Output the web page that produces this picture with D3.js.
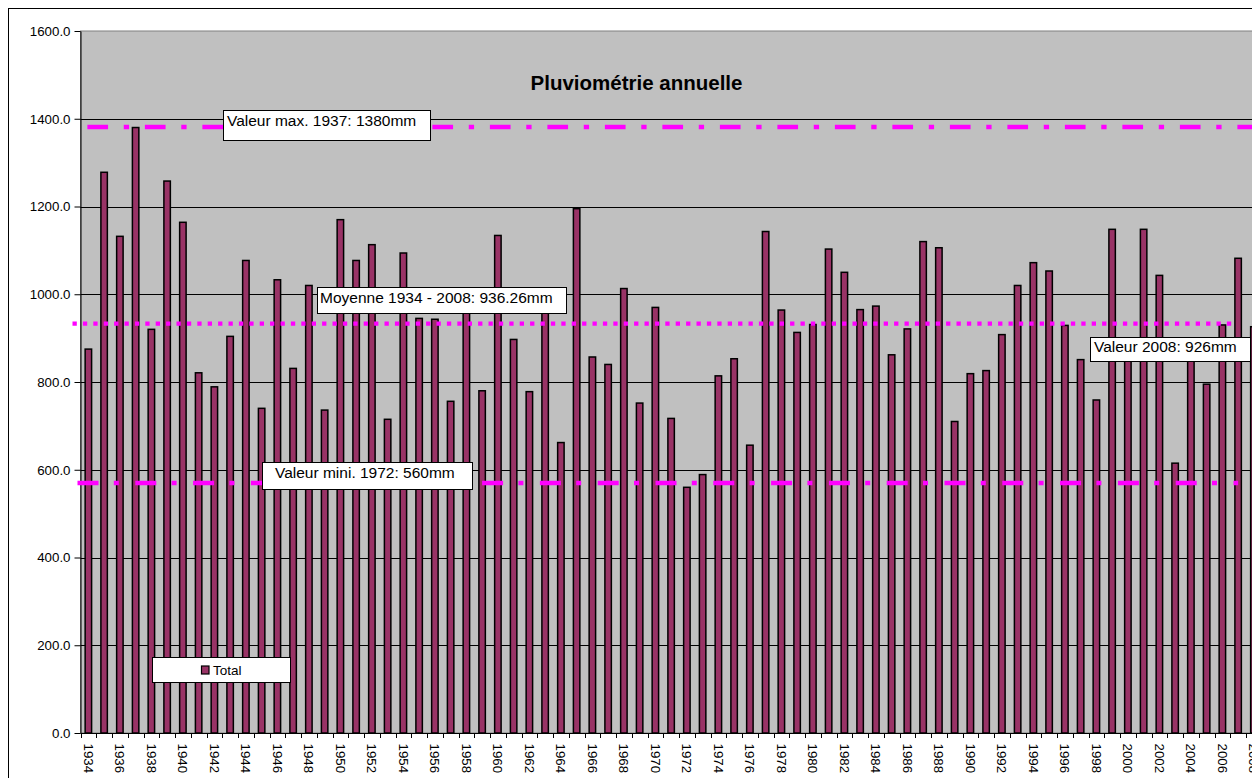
<!DOCTYPE html>
<html>
<head>
<meta charset="utf-8">
<script src="https://cdn.jsdelivr.net/npm/d3@7"></script>
<style>
  body { margin: 0; background: #fff; overflow: hidden; }
  text { font-family: Arial, "Liberation Sans", sans-serif; }
</style>
</head>
<body>
<div id="chart"></div>
<script>
// categories (years) and yearly rainfall in mm
var years = [1934, 1935, 1936, 1937, 1938, 1939, 1940, 1941, 1942, 1943,
  1944, 1945, 1946, 1947, 1948, 1949, 1950, 1951, 1952, 1953,
  1954, 1955, 1956, 1957, 1958, 1959, 1960, 1961, 1962, 1963,
  1964, 1965, 1966, 1967, 1968, 1969, 1970, 1971, 1972, 1973,
  1974, 1975, 1976, 1977, 1978, 1979, 1980, 1981, 1982, 1983,
  1984, 1985, 1986, 1987, 1988, 1989, 1990, 1991, 1992, 1993,
  1994, 1995, 1996, 1997, 1998, 1999, 2000, 2001, 2002, 2003,
  2004, 2005, 2006, 2007, 2008];
var rainfall = [875, 1278, 1132, 1380, 920, 1258, 1164, 821, 789, 904,
  1077, 740, 1033, 831, 1020, 736, 1170, 1077, 1113, 715,
  1094, 945, 943, 756, 980, 780, 1134, 897, 778, 970,
  662, 1195, 857, 840, 1013, 752, 970, 717, 560, 589,
  814, 853, 656, 1143, 964, 913, 931, 1103, 1050, 965,
  973, 862, 921, 1120, 1106, 710, 819, 826, 908, 1020,
  1072, 1053, 929, 851, 759, 1148, 885, 1148, 1043, 615,
  862, 795, 930, 1082, 926];
var yTicks = [0, 200, 400, 600, 800, 1000, 1200, 1400, 1600];
var xTickLabels = [1934, 1936, 1938, 1940, 1942, 1944, 1946, 1948, 1950, 1952,
  1954, 1956, 1958, 1960, 1962, 1964, 1966, 1968, 1970, 1972, 1974, 1976,
  1978, 1980, 1982, 1984, 1986, 1988, 1990, 1992, 1994, 1996, 1998, 2000,
  2002, 2004, 2006, 2008];

// reference lines (levels as drawn on the chart)
var maxLevel = 1381,
  meanLevel = 933,
  minLevel = 570;
var seriesName = "Total";
var chartTitle = "Pluviométrie annuelle";
var labelMax = "Valeur max. 1937: 1380mm",
  labelMean = "Moyenne 1934 - 2008: 936.26mm",
  labelMin = "Valeur mini. 1972: 560mm",
  labelLast = "Valeur 2008: 926mm";

var data = years.map(function (y, i) {
  return { year: y, value: rainfall[i] };
});

var frameWidth = 1252,
  frameHeight = 778;
var plot = { left: 80.5, top: 31, right: 1261.75, bottom: 733 };
var barColor = "#993366",
  refColor = "#ff00ff";

var svg = d3
  .select("#chart")
  .append("svg")
  .attr("width", frameWidth)
  .attr("height", frameHeight);

// chart area frame (runs off the right / bottom of the picture)
svg
  .append("rect")
  .attr("x", 8.5)
  .attr("y", 8.5)
  .attr("width", 1300)
  .attr("height", 800)
  .attr("fill", "#fff")
  .attr("stroke", "#000");

var xSlot = d3.scaleBand().domain(years).range([plot.left, plot.right]);
var xScale = d3
  .scaleBand()
  .domain(years)
  .range([plot.left, plot.right])
  .paddingInner(0.59)
  .paddingOuter(0.295);
var yScale = d3.scaleLinear().domain([0, 1600]).range([plot.bottom, plot.top]);

// plot area
svg
  .append("rect")
  .attr("x", plot.left)
  .attr("y", plot.top)
  .attr("width", plot.right - plot.left)
  .attr("height", plot.bottom - plot.top)
  .attr("fill", "#c0c0c0")
  .attr("stroke", "#808080");

// gridlines
svg
  .append("g")
  .attr("class", "grid")
  .selectAll("line")
  .data(yTicks.slice(1, -1))
  .enter()
  .append("line")
  .attr("x1", plot.left)
  .attr("x2", plot.right)
  .attr("y1", function (d) { return Math.round(yScale(d)) + 0.5; })
  .attr("y2", function (d) { return Math.round(yScale(d)) + 0.5; })
  .attr("stroke", "#000")
  .attr("stroke-width", 1);

// title
svg
  .append("text")
  .attr("x", 636.5)
  .attr("y", 90)
  .attr("text-anchor", "middle")
  .attr("font-size", "20.5px")
  .attr("font-weight", "bold")
  .attr("fill", "#000")
  .text(chartTitle);

// bars
svg
  .append("g")
  .attr("class", "bars")
  .selectAll("rect")
  .data(data)
  .enter()
  .append("rect")
  .attr("x", function (d) { return xScale(d.year); })
  .attr("y", function (d) { return yScale(d.value); })
  .attr("width", xScale.bandwidth())
  .attr("height", function (d) { return plot.bottom - yScale(d.value); })
  .attr("fill", barColor)
  .attr("stroke", "#000")
  .attr("stroke-width", 1.5);

// y axis
var yAxis = svg
  .append("g")
  .attr("transform", "translate(" + plot.left + ",0)")
  .call(
    d3.axisLeft(yScale)
      .tickValues(yTicks)
      .tickSize(6)
      .tickSizeOuter(0)
      .tickPadding(4)
      .tickFormat(d3.format(".1f"))
  );
yAxis.select(".domain").attr("stroke", "#000");
yAxis.selectAll("line").attr("stroke", "#000");
yAxis
  .selectAll("text")
  .attr("font-family", "Arial, 'Liberation Sans', sans-serif")
  .attr("font-size", "13.3px")
  .attr("fill", "#000");

// x axis line, ticks at category boundaries, rotated labels
var xAxis = svg.append("g").attr("class", "xAxis");
xAxis
  .append("line")
  .attr("x1", plot.left)
  .attr("x2", plot.right)
  .attr("y1", plot.bottom + 0.5)
  .attr("y2", plot.bottom + 0.5)
  .attr("stroke", "#000");
xAxis
  .selectAll(".tick")
  .data(years.concat(["end"]))
  .enter()
  .append("line")
  .attr("class", "tick")
  .attr("x1", function (d) {
    var x = d === "end" ? plot.right : xSlot(d);
    return Math.round(x) + 0.5;
  })
  .attr("x2", function (d) {
    var x = d === "end" ? plot.right : xSlot(d);
    return Math.round(x) + 0.5;
  })
  .attr("y1", plot.bottom)
  .attr("y2", plot.bottom + 5)
  .attr("stroke", "#000");
xAxis
  .selectAll(".xLabel")
  .data(xTickLabels)
  .enter()
  .append("text")
  .attr("class", "xLabel")
  .attr("transform", function (d) {
    return "translate(" + (xSlot(d) + xSlot.bandwidth() / 2) + "," + 743.5 + ") rotate(90)";
  })
  .attr("dy", "0.35em")
  .attr("text-anchor", "start")
  .attr("font-size", "13.3px")
  .attr("fill", "#000")
  .text(function (d) { return d; });

// reference lines
var firstCenter = xSlot(years[0]) + xSlot.bandwidth() / 2;
var prevCenter = xSlot(years[years.length - 2]) + xSlot.bandwidth() / 2;
var refLines = svg.append("g").attr("class", "refLines");
refLines
  .append("line")
  .attr("x1", firstCenter - 1)
  .attr("x2", plot.right)
  .attr("y1", yScale(maxLevel))
  .attr("y2", yScale(maxLevel))
  .attr("stroke", refColor)
  .attr("stroke-width", 4.5)
  .attr("stroke-dasharray", "20.7 15.7 5.3 15.8");
refLines
  .append("line")
  .attr("x1", plot.left - 8)
  .attr("x2", prevCenter - 2)
  .attr("y1", yScale(meanLevel))
  .attr("y2", yScale(meanLevel))
  .attr("stroke", refColor)
  .attr("stroke-width", 4.3)
  .attr("stroke-dasharray", "4.3 6.1");
refLines
  .append("line")
  .attr("x1", plot.left - 3)
  .attr("x2", prevCenter)
  .attr("y1", yScale(minLevel))
  .attr("y2", yScale(minLevel))
  .attr("stroke", refColor)
  .attr("stroke-width", 4.5)
  .attr("stroke-dasharray", "21 15.3 5 16.5");

// annotation boxes
var notes = [
  { text: labelMax, x: 223.5, y: 110.5, w: 207, h: 30, tx: 227, ty: 126 },
  { text: labelMean, x: 317.5, y: 287.5, w: 249, h: 26, tx: 320, ty: 303 },
  { text: labelMin, x: 262.5, y: 462.5, w: 210, h: 27, tx: 275, ty: 477.5 },
  { text: labelLast, x: 1090.5, y: 337.5, w: 160, h: 24, tx: 1094, ty: 352 }
];
var noteG = svg
  .append("g")
  .attr("class", "notes")
  .selectAll("g")
  .data(notes)
  .enter()
  .append("g");
noteG
  .append("rect")
  .attr("x", function (d) { return d.x; })
  .attr("y", function (d) { return d.y; })
  .attr("width", function (d) { return d.w; })
  .attr("height", function (d) { return d.h; })
  .attr("fill", "#fff")
  .attr("stroke", "#000");
noteG
  .append("text")
  .attr("x", function (d) { return d.tx; })
  .attr("y", function (d) { return d.ty; })
  .attr("font-size", "15.5px")
  .attr("fill", "#000")
  .text(function (d) { return d.text; });

// legend
var legend = svg.append("g").attr("class", "legend");
legend
  .append("rect")
  .attr("x", 152.5)
  .attr("y", 657.5)
  .attr("width", 138)
  .attr("height", 25)
  .attr("fill", "#fff")
  .attr("stroke", "#000");
legend
  .append("rect")
  .attr("x", 201.5)
  .attr("y", 666)
  .attr("width", 7.5)
  .attr("height", 8)
  .attr("fill", barColor)
  .attr("stroke", "#000")
  .attr("stroke-width", 1.2);
legend
  .append("text")
  .attr("x", 213)
  .attr("y", 675)
  .attr("font-size", "13.5px")
  .attr("fill", "#000")
  .text(seriesName);
</script>
</body>
</html>
